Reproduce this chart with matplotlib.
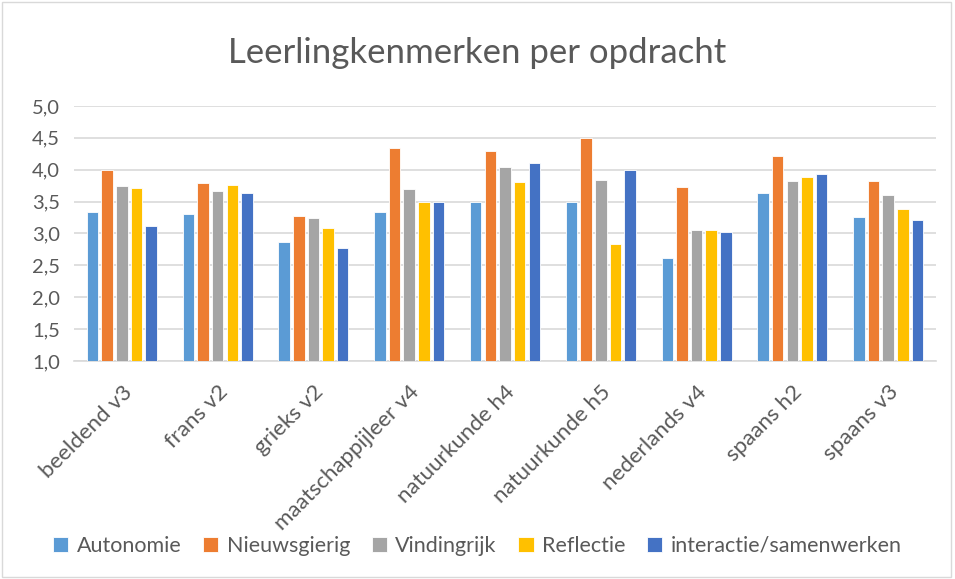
import numpy as np
import matplotlib.pyplot as plt
from matplotlib.patches import Rectangle

plt.rcParams['font.family'] = ['Lato', 'DejaVu Sans']

categories = ['beeldend v3', 'frans v2', 'grieks v2', 'maatschappijleer v4',
              'natuurkunde h4', 'natuurkunde h5', 'nederlands v4', 'spaans h2', 'spaans v3']
autonomie = [3.34, 3.30, 2.86, 3.33, 3.50, 3.50, 2.62, 3.64, 3.26]
nieuwsgierig = [4.00, 3.80, 3.28, 4.34, 4.30, 4.50, 3.73, 4.22, 3.82]
vindingrijk = [3.75, 3.66, 3.24, 3.70, 4.04, 3.84, 3.06, 3.83, 3.61]
reflectie = [3.71, 3.76, 3.09, 3.50, 3.81, 2.83, 3.06, 3.88, 3.39]
interactie = [3.11, 3.63, 2.78, 3.50, 4.10, 4.00, 3.03, 3.93, 3.21]

series = [('Autonomie', autonomie, '#5B9BD5'),
          ('Nieuwsgierig', nieuwsgierig, '#ED7D31'),
          ('Vindingrijk', vindingrijk, '#A5A5A5'),
          ('Reflectie', reflectie, '#FFC000'),
          ('interactie/samenwerken', interactie, '#4472C4')]

txt = '#595959'
fig = plt.figure(figsize=(9.55, 5.79), dpi=100)
ax = fig.add_axes([74/955, 1 - 361/579, (936-74)/955, (361-106)/579])

x = np.arange(len(categories))
step = 0.153
w = 0.12
for i, (name, vals, col) in enumerate(series):
    ax.bar(x + (i - 2) * step, np.array(vals) - 1, bottom=1, width=w, color=col,
           edgecolor='white', linewidth=0.6, label=name, zorder=3)

ax.set_xlim(-0.5, len(categories) - 0.5)
ax.set_ylim(1, 5)
yt = np.arange(1, 5.01, 0.5)
ax.set_yticks(yt)
ax.set_yticklabels([f'{v:.1f}'.replace('.', ',') for v in yt], fontsize=14.5, color=txt)
ax.set_xticks(x)
ax.set_xticklabels(categories, rotation=45, ha='right', rotation_mode='anchor',
                   fontsize=16, color=txt)
ax.tick_params(length=0, pad=10)
ax.tick_params(axis='x', pad=15)
ax.grid(axis='y', color='#D9D9D9', linewidth=1.2, zorder=0)
for s in ['top', 'right', 'left']:
    ax.spines[s].set_visible(False)
ax.spines['bottom'].set_color('#D9D9D9')
ax.spines['bottom'].set_linewidth(1.2)

fig.text(0.5, 1 - 53/579, 'Leerlingkenmerken per opdracht', ha='center', va='center',
         fontsize=25, color=txt)

handles, labels = ax.get_legend_handles_labels()
fig.legend(handles, labels, loc='center', bbox_to_anchor=(0.5, 1 - 546/579), ncol=5,
           frameon=False, fontsize=15.5, handlelength=0.7, handleheight=0.7,
           handletextpad=0.4, columnspacing=1.0, labelcolor=txt)

fig.patches.append(Rectangle((0.002, 0.004), 0.994, 0.992, transform=fig.transFigure,
                             fill=False, edgecolor='#D9D9D9', linewidth=1))

fig.savefig('out.png', dpi=100)
